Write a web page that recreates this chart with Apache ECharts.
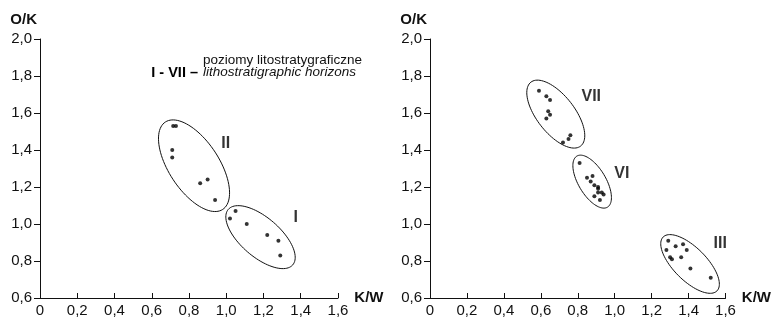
<!DOCTYPE html>
<html><head><meta charset="utf-8">
<script src="https://cdn.jsdelivr.net/npm/echarts@6/dist/echarts.min.js"></script>
<style>html,body{margin:0;padding:0;background:#fff}#c{width:774px;height:320px}</style>
</head><body><div id="c"></div>
<script>
// ---- data ----
const xTickLabels = ['0','0,2','0,4','0,6','0,8','1,0','1,2','1,4','1,6'];
const yTickLabels = ['0,6','0,8','1,0','1,2','1,4','1,6','1,8','2,0'];

const groupI   = [[1.02,1.03],[1.05,1.07],[1.11,1.00],[1.22,0.94],[1.28,0.91],[1.29,0.83]];
const groupII  = [[0.715,1.53],[0.73,1.53],[0.71,1.40],[0.71,1.36],[0.86,1.22],[0.90,1.24],[0.94,1.13]];
const groupVII = [[0.59,1.72],[0.63,1.69],[0.65,1.67],[0.64,1.61],[0.65,1.59],[0.63,1.57],[0.72,1.44],[0.75,1.46],[0.76,1.48]];
const groupVI  = [[0.81,1.33],[0.85,1.25],[0.88,1.26],[0.87,1.23],[0.89,1.21],[0.91,1.20],[0.91,1.19],[0.91,1.17],[0.93,1.17],[0.94,1.16],[0.89,1.15],[0.92,1.13]];
const groupIII = [[1.29,0.91],[1.28,0.86],[1.33,0.88],[1.37,0.89],[1.39,0.86],[1.30,0.82],[1.31,0.81],[1.36,0.82],[1.41,0.76],[1.52,0.71]];

// enclosures: centre x, centre y, semi-axis a, semi-axis b, rotation (deg)
const leftEnclosures  = [[0.827,1.315,0.282,0.135,-57],[1.184,0.929,0.229,0.106,-41]];
const rightEnclosures = [[0.681,1.594,0.219,0.102,-52],[0.878,1.229,0.161,0.074,-59],[1.408,0.784,0.206,0.089,-45]];

const leftLabels  = [['II',0.997,1.434],['I',1.373,1.032]];
const rightLabels = [['VII',0.873,1.69],['VI',1.039,1.272],['III',1.571,0.892]];

const legendKey = 'I - VII –';
const legendPl = 'poziomy litostratygraficzne';
const legendEn = 'lithostratigraphic horizons';

// ---- chart ----
const FONT = "'Liberation Sans Narrow','Liberation Sans',Arial,sans-serif";
const INK = '#111';

function xAxis(gi){
  return {gridIndex:gi,type:'value',min:0,max:1.6,interval:0.2,
    name:'K/W',nameLocation:'end',nameGap:4,
    nameTextStyle:{fontFamily:FONT,fontSize:15,fontWeight:'bold',color:INK,align:'left',verticalAlign:'middle'},
    axisLine:{show:true,onZero:false,lineStyle:{color:INK,width:1}},
    axisTick:{show:true,inside:true,length:5,lineStyle:{color:INK,width:1}},
    axisLabel:{margin:5,fontFamily:FONT,fontSize:15,color:INK,
      formatter:v=>xTickLabels[Math.round(v/0.2)]},
    splitLine:{show:false}};
}
function yAxis(gi){
  return {gridIndex:gi,type:'value',min:0.6,max:2.0,interval:0.2,
    name:'O/K',nameLocation:'end',nameGap:12,
    nameTextStyle:{fontFamily:FONT,fontSize:15,fontWeight:'bold',color:INK,align:'right',padding:[0,3,0,0]},
    axisLine:{show:true,onZero:false,lineStyle:{color:INK,width:1}},
    axisTick:{show:true,inside:false,length:6,lineStyle:{color:INK,width:1}},
    axisLabel:{margin:8,fontFamily:FONT,fontSize:15,color:INK,
      formatter:v=>yTickLabels[Math.round((v-0.6)/0.2)]},
    splitLine:{show:false}};
}
function ellipseItem(params, api){
  const cx=api.value(0), cy=api.value(1), a=api.value(2), b=api.value(3), ang=api.value(4)*Math.PI/180;
  const pts=[];
  for(let i=0;i<96;i++){
    const t=i/96*2*Math.PI, dx=a*Math.cos(t), dy=b*Math.sin(t);
    pts.push(api.coord([cx+dx*Math.cos(ang)-dy*Math.sin(ang), cy+dx*Math.sin(ang)+dy*Math.cos(ang)]));
  }
  return {type:'polygon',shape:{points:pts},style:{fill:'none',stroke:INK,lineWidth:1}};
}
function dots(gi,data){
  return {type:'scatter',xAxisIndex:gi,yAxisIndex:gi,data:data,symbol:'circle',symbolSize:4,
    itemStyle:{color:'#000'},silent:true,z:3};
}
function encl(gi,data){
  return {type:'custom',xAxisIndex:gi,yAxisIndex:gi,data:data,renderItem:ellipseItem,
    encode:{x:0,y:1},silent:true,clip:false,z:2};
}
function labels(gi,data){
  return {type:'scatter',xAxisIndex:gi,yAxisIndex:gi,symbolSize:0,silent:true,
    data:data.map(d=>({name:d[0],value:[d[1],d[2]]})),
    label:{show:true,position:'inside',formatter:p=>p.name,fontFamily:FONT,fontSize:16,fontWeight:'bold',color:'#000'}};
}

const chart = echarts.init(document.getElementById('c'),null,{renderer:'canvas'});
chart.setOption({
  animation:false,
  backgroundColor:'#fff',
  grid:[{left:40,top:39,width:298,height:259},{left:430,top:39,width:298,height:259}],
  xAxis:[xAxis(0),xAxis(1)],
  yAxis:[yAxis(0),yAxis(1)],
  series:[
    encl(0,leftEnclosures), encl(1,rightEnclosures),
    dots(0,groupI), dots(0,groupII),
    dots(1,groupVII), dots(1,groupVI), dots(1,groupIII),
    labels(0,leftLabels), labels(1,rightLabels)
  ],
  graphic:[
    {type:'text',x:198,y:73,style:{text:legendKey,fontFamily:FONT,fontSize:14.5,fontWeight:'bold',fill:'#000',align:'right',verticalAlign:'middle'}},
    {type:'text',x:203,y:60.5,style:{text:legendPl,fontFamily:FONT,fontSize:13.5,fill:INK,align:'left',verticalAlign:'middle'}},
    {type:'text',x:203,y:72.5,style:{text:legendEn,fontFamily:FONT,fontSize:13.5,fontStyle:'italic',fill:INK,align:'left',verticalAlign:'middle'}}
  ]
});
</script></body></html>
